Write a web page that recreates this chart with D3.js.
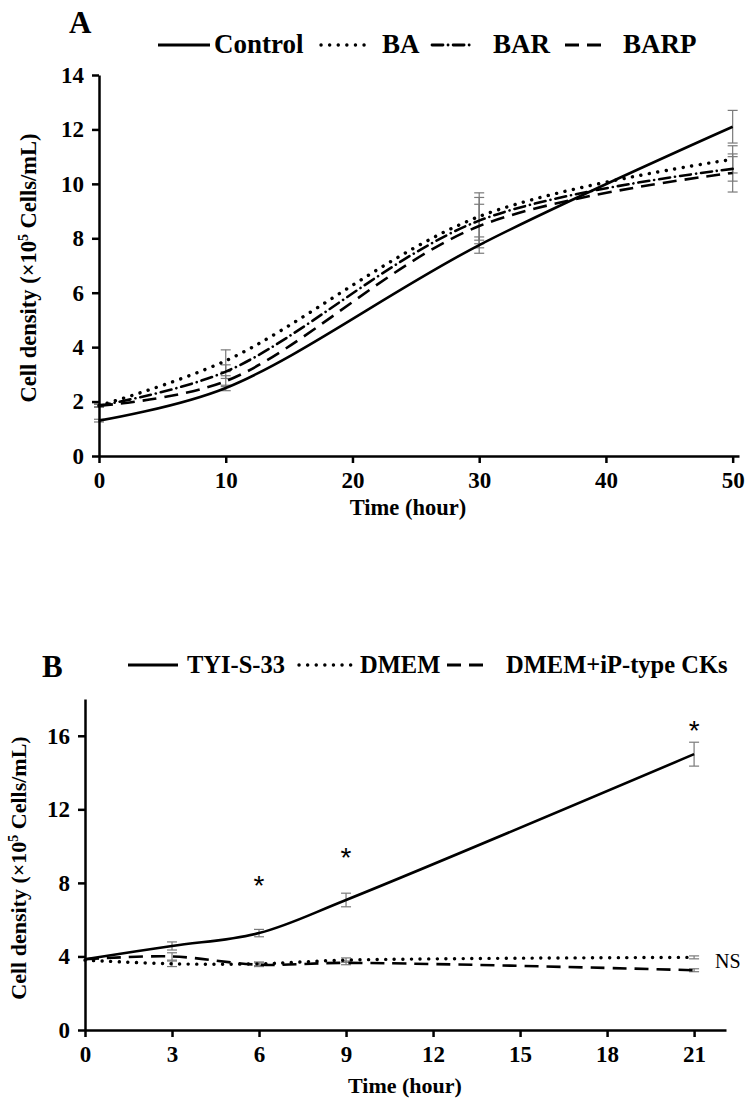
<!DOCTYPE html>
<html>
<head>
<style>
  body { margin: 0; background: #fff; }
  svg text { font-family: "Liberation Serif", "Times New Roman", serif; font-weight: bold; fill: #000; }
  .axis path, .axis line { stroke: #000; stroke-width: 2.5; }
  .axis text { font-size: 23px; }
</style>
<script src="https://d3js.org/d3.v7.min.js"></script>
</head>
<body>
<svg id="chart" width="748" height="1106"></svg>
<script>
// panel A data
const timeA = [0, 10, 30, 50];
const controlA = [1.3, 2.5, 7.75, 12.1];
const controlAErr = [0.05, 0.1, 0.3, 0.6];
const baA = [1.85, 3.5, 8.8, 10.9];
const baAErr = [0.05, 0.4, 0.87, 0.5];
const barA = [1.85, 3.1, 8.65, 10.55];
const barAErr = [0.05, 0.25, 0.85, 0.45];
const barpA = [1.85, 2.75, 8.45, 10.4];
const barpAErr = [0.05, 0.2, 0.8, 0.7];
const ticksAx = [0, 10, 20, 30, 40, 50];
const ticksAy = [0, 2, 4, 6, 8, 10, 12, 14];

// panel B data
const timeB = [0, 3, 6, 9, 21];
const tyi = [3.85, 4.57, 5.27, 7.07, 15.0];
const tyiErr = [0, 0.22, 0.2, 0.37, 0.65];
const dmem = [3.8, 3.6, 3.6, 3.8, 3.95];
const dmemErr = [0, 0.15, 0.1, 0.12, 0.08];
const dmemIP = [3.85, 4.0, 3.55, 3.65, 3.25];
const dmemIPErr = [0, 0.2, 0.1, 0.1, 0.08];
const ticksBx = [0, 3, 6, 9, 12, 15, 18, 21];
const ticksBy = [0, 4, 8, 12, 16];
const starsB = [6, 9, 21];
const starsBy = [8.15, 9.7, 16.6];

const svg = d3.select("svg#chart");

const styles = {
  solid: {dash: null, cap: "butt"},
  dot: {dash: "0.1 8.5", cap: "round"},
  dashdot: {dash: "11 5 0.1 5", cap: "round"},
  dash: {dash: "14 8", cap: "butt"}
};

function panel(opt) {
  const x = d3.scaleLinear().domain(opt.xDomain).range(opt.xRange);
  const y = d3.scaleLinear().domain(opt.yDomain).range(opt.yRange);
  const g = svg.append("g");

  // error bars first so lines sit on top
  opt.series.forEach(s => {
    s.values.forEach((v, i) => {
      const e = s.err[i];
      if (!e) return;
      const xp = x(opt.time[i]);
      const eb = g.append("g").attr("stroke", "#7a7a7a").attr("stroke-width", 1.2);
      eb.append("line").attr("x1", xp).attr("x2", xp).attr("y1", y(v - e)).attr("y2", y(v + e));
      [v - e, v + e].forEach(c => {
        eb.append("line").attr("x1", xp - 5).attr("x2", xp + 5).attr("y1", y(c)).attr("y2", y(c));
      });
    });
  });

  const line = d3.line().curve(d3.curveCatmullRom.alpha(0.5))
    .x((d, i) => x(opt.time[i])).y(d => y(d));

  opt.series.forEach(s => {
    const st = styles[s.style];
    g.append("path").datum(s.values)
      .attr("d", line)
      .attr("fill", "none")
      .attr("stroke", "#000")
      .attr("stroke-width", s.style === "dot" ? 3.4 : 2.6)
      .attr("stroke-linecap", st.cap)
      .attr("stroke-dasharray", st.dash);
  });

  const leftAxis = d3.axisLeft(y).tickValues(opt.yTicks).tickSize(7).tickSizeOuter(0).tickPadding(8);
  g.append("g").attr("class", "axis")
    .attr("transform", "translate(" + opt.xRange[0] + ",0)")
    .call(leftAxis);

  const bottomAxis = d3.axisBottom(x).tickValues(opt.xTicks).tickSize(7).tickSizeOuter(0).tickPadding(9);
  g.append("g").attr("class", "axis")
    .attr("transform", "translate(0," + opt.yRange[0] + ")")
    .call(bottomAxis);

  // axis titles
  const yl = g.append("text")
    .attr("transform", "translate(" + opt.yLabelX + "," + opt.yLabelY + ") rotate(-90)")
    .attr("text-anchor", "middle")
    .style("font-size", opt.titleFont);
  yl.append("tspan").text("Cell density (×10");
  yl.append("tspan").text("5").attr("dy", -8).style("font-size", "14px");
  yl.append("tspan").text(" Cells/mL)").attr("dy", 8);

  g.append("text")
    .attr("x", opt.xLabelX).attr("y", opt.xLabelY)
    .attr("text-anchor", "middle")
    .style("font-size", opt.titleFont)
    .text("Time (hour)");

  // panel letter
  g.append("text").attr("x", opt.letterX).attr("y", opt.letterY)
    .style("font-size", "31px").text(opt.letter);

  // legend
  opt.legend.forEach(l => {
    const st = styles[l.style];
    g.append("line")
      .attr("x1", l.x1).attr("x2", l.x2).attr("y1", opt.legendY - 8).attr("y2", opt.legendY - 8)
      .attr("stroke", "#000")
      .attr("stroke-width", l.style === "dot" ? 3.4 : 2.8)
      .attr("stroke-linecap", st.cap)
      .attr("stroke-dasharray", st.dash);
    g.append("text").attr("x", l.tx).attr("y", opt.legendY)
      .style("font-size", opt.legendFont).text(l.label);
  });

  return {x, y, g};
}

panel({
  time: timeA,
  xDomain: [0, 50.5], xRange: [99, 739],
  yDomain: [0, 14], yRange: [456, 75],
  xTicks: ticksAx, yTicks: ticksAy,
  series: [
    {values: controlA, err: controlAErr, style: "solid"},
    {values: baA, err: baAErr, style: "dot"},
    {values: barA, err: barAErr, style: "dashdot"},
    {values: barpA, err: barpAErr, style: "dash"}
  ],
  titleFont: "22.5px",
  yLabelX: 36, yLabelY: 268,
  xLabelX: 408, xLabelY: 515,
  letter: "A", letterX: 69, letterY: 33,
  legendY: 53, legendFont: "27px",
  legend: [
    {label: "Control", style: "solid", x1: 158, x2: 210, tx: 214},
    {label: "BA", style: "dot", x1: 321, x2: 372, tx: 382},
    {label: "BAR", style: "dashdot", x1: 432, x2: 470, tx: 493},
    {label: "BARP", style: "dash", x1: 565, x2: 606, tx: 623}
  ]
});

const pB = panel({
  time: timeB,
  xDomain: [0, 22.1], xRange: [85, 726],
  yDomain: [0, 18], yRange: [1030, 699],
  xTicks: ticksBx, yTicks: ticksBy,
  series: [
    {values: tyi, err: tyiErr, style: "solid"},
    {values: dmem, err: dmemErr, style: "dot"},
    {values: dmemIP, err: dmemIPErr, style: "dash"}
  ],
  titleFont: "22px",
  yLabelX: 26, yLabelY: 868,
  xLabelX: 405, xLabelY: 1093,
  letter: "B", letterX: 42, letterY: 677,
  legendY: 673, legendFont: "24.5px",
  legend: [
    {label: "TYI-S-33", style: "solid", x1: 128, x2: 178, tx: 187},
    {label: "DMEM", style: "dot", x1: 299, x2: 357, tx: 360},
    {label: "DMEM+iP-type CKs", style: "dash", x1: 447, x2: 490, tx: 506}
  ]
});

// significance marks
starsB.forEach((t, i) => {
  pB.g.append("text")
    .attr("x", pB.x(t)).attr("y", pB.y(starsBy[i]) + 15)
    .attr("text-anchor", "middle")
    .style("font-family", "Liberation Sans, Arial, sans-serif")
    .style("font-weight", "normal")
    .style("font-size", "28px")
    .text("*");
});
pB.g.append("text")
  .attr("x", pB.x(21) + 21).attr("y", pB.y(3.75) + 7)
  .style("font-weight", "normal").style("font-size", "20px")
  .text("NS");
</script>
</body>
</html>
